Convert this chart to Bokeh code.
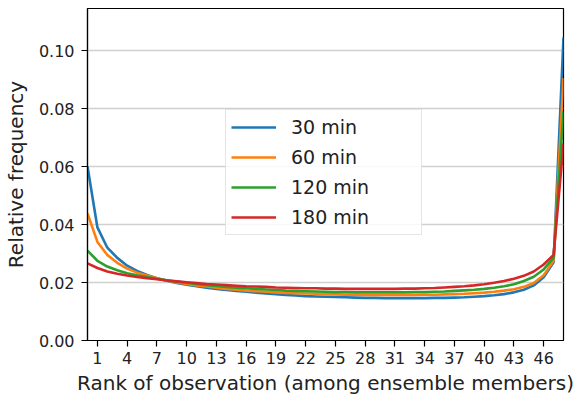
from bokeh.plotting import figure
from bokeh.models import Range1d, FixedTicker, NumeralTickFormatter, Legend, LegendItem
from bokeh.embed import file_html
from bokeh.resources import INLINE

# Rank positions (0..48) and relative frequency of each rank per lead time
ranks = list(range(49))

freq_30 = [0.0600, 0.0390, 0.0320, 0.0285, 0.0258, 0.0240, 0.0226, 0.0215, 0.0206, 0.0198,
           0.0192, 0.0187, 0.0182, 0.0178, 0.0174, 0.0171, 0.0168, 0.0165, 0.0162, 0.0160,
           0.0157, 0.0155, 0.0153, 0.0152, 0.0151, 0.0150, 0.0149, 0.0148, 0.0147, 0.0147,
           0.0146, 0.0146, 0.0146, 0.0146, 0.0146, 0.0147, 0.0147, 0.0148, 0.0149, 0.0151,
           0.0153, 0.0156, 0.0160, 0.0166, 0.0175, 0.0190, 0.0218, 0.0270, 0.1045]
freq_60 = [0.0438, 0.0340, 0.0295, 0.0268, 0.0248, 0.0234, 0.0224, 0.0215, 0.0207, 0.0200,
           0.0195, 0.0190, 0.0186, 0.0182, 0.0178, 0.0175, 0.0172, 0.0170, 0.0168, 0.0166,
           0.0164, 0.0163, 0.0162, 0.0161, 0.0160, 0.0159, 0.0158, 0.0158, 0.0157, 0.0157,
           0.0157, 0.0157, 0.0157, 0.0157, 0.0158, 0.0158, 0.0159, 0.0160, 0.0161, 0.0163,
           0.0165, 0.0168, 0.0172, 0.0177, 0.0185, 0.0198, 0.0225, 0.0275, 0.0905]
freq_120 = [0.0310, 0.0275, 0.0255, 0.0242, 0.0232, 0.0225, 0.0219, 0.0213, 0.0208, 0.0203,
            0.0199, 0.0195, 0.0191, 0.0188, 0.0185, 0.0182, 0.0180, 0.0178, 0.0176, 0.0174,
            0.0172, 0.0171, 0.0170, 0.0169, 0.0168, 0.0167, 0.0167, 0.0166, 0.0166, 0.0166,
            0.0166, 0.0166, 0.0166, 0.0167, 0.0167, 0.0168, 0.0169, 0.0171, 0.0173, 0.0175,
            0.0178, 0.0182, 0.0187, 0.0194, 0.0205, 0.0220, 0.0245, 0.0285, 0.0790]
freq_180 = [0.0266, 0.0250, 0.0238, 0.0230, 0.0224, 0.0219, 0.0215, 0.0211, 0.0207, 0.0204,
            0.0201, 0.0198, 0.0195, 0.0193, 0.0191, 0.0189, 0.0187, 0.0186, 0.0185, 0.0183,
            0.0182, 0.0181, 0.0180, 0.0180, 0.0179, 0.0179, 0.0178, 0.0178, 0.0178, 0.0178,
            0.0178, 0.0178, 0.0179, 0.0179, 0.0180, 0.0181, 0.0183, 0.0185, 0.0187, 0.0190,
            0.0194, 0.0199, 0.0205, 0.0213, 0.0223, 0.0238, 0.0262, 0.0295, 0.0680]

series_labels = ["30 min", "60 min", "120 min", "180 min"]
series_colors = ["#1f77b4", "#ff7f0e", "#2ca02c", "#d62728"]
x_ticks = list(range(1, 47, 3))
y_ticks = [0.0, 0.02, 0.04, 0.06, 0.08, 0.10]

FONT = "DejaVu Sans"

p = figure(width=580, height=397, output_backend="svg", toolbar_location=None,
           x_range=Range1d(0, 48), y_range=Range1d(0, 0.1145),
           min_border_left=87, min_border_right=17, min_border_top=8, min_border_bottom=57)

p.outline_line_color = "black"
p.outline_line_width = 1.2
p.background_fill_color = "white"
p.border_fill_color = "white"

p.xgrid.visible = False
p.ygrid.grid_line_color = "#d0d0d0"
p.ygrid.grid_line_width = 1.3
p.ygrid.ticker = FixedTicker(ticks=y_ticks)

for ax in (p.xaxis[0], p.yaxis[0]):
    ax.axis_line_color = "black"
    ax.axis_line_width = 1.2
    ax.major_tick_line_color = "black"
    ax.major_tick_line_width = 1.2
    ax.major_tick_in = 0
    ax.major_tick_out = 6
    ax.minor_tick_line_color = None
    ax.major_label_text_font = FONT
    ax.major_label_text_font_size = "16px"
    ax.major_label_text_color = "#222222"
    ax.axis_label_text_font = FONT
    ax.axis_label_text_font_size = "20px"
    ax.axis_label_text_font_style = "normal"
    ax.axis_label_text_color = "#222222"

p.xaxis.ticker = FixedTicker(ticks=x_ticks)
p.xaxis.axis_label = "Rank of observation (among ensemble members)"
p.xaxis.major_label_standoff = 5
p.xaxis.axis_label_standoff = 4

p.yaxis.ticker = FixedTicker(ticks=y_ticks)
p.yaxis.formatter = NumeralTickFormatter(format="0.00")
p.yaxis.axis_label = "Relative frequency"
p.yaxis.major_label_standoff = 7
p.yaxis.axis_label_standoff = 8

items = []
for ys, lab, col in zip([freq_30, freq_60, freq_120, freq_180], series_labels, series_colors):
    r = p.line(ranks, ys, line_color=col, line_width=2.6)
    items.append(LegendItem(label=lab, renderers=[r]))

legend = Legend(items=items, location=(138, 105))
legend.label_text_font = FONT
legend.label_text_font_size = "19px"
legend.label_text_color = "#222222"
legend.glyph_width = 45
legend.glyph_height = 24
legend.label_height = 24
legend.label_width = 125
legend.label_standoff = 15
legend.spacing = 6
legend.padding = 5
legend.margin = 0
legend.border_line_color = "#cccccc"
legend.border_line_width = 1
legend.background_fill_color = "white"
legend.background_fill_alpha = 0.85
p.add_layout(legend, "center")

open("out.html", "w").write(file_html(p, INLINE))
